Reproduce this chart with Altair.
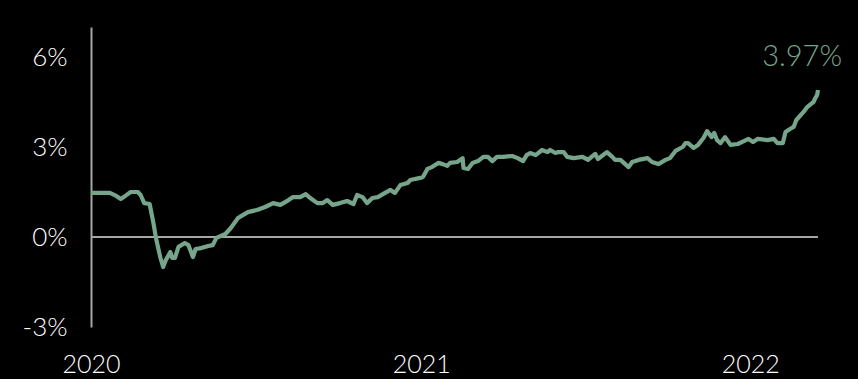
import altair as alt
import pandas as pd

# Cumulative return series, Jan 2020 - Mar 2022 (percent)
dates = [
    "2020-01-01", "2020-01-22", "2020-01-29", "2020-02-03", "2020-02-08", "2020-02-14",
    "2020-02-22", "2020-02-25", "2020-02-29", "2020-03-06", "2020-03-10", "2020-03-13",
    "2020-03-18", "2020-03-21", "2020-03-24", "2020-03-29", "2020-03-31", "2020-04-03",
    "2020-04-07", "2020-04-14", "2020-04-18", "2020-04-23", "2020-04-26", "2020-05-02",
    "2020-05-10", "2020-05-15", "2020-05-19", "2020-05-29", "2020-06-04", "2020-06-12",
    "2020-06-14", "2020-06-23", "2020-07-03", "2020-07-12", "2020-07-21", "2020-07-29",
    "2020-08-07", "2020-08-12", "2020-08-20", "2020-08-26", "2020-08-31", "2020-09-08",
    "2020-09-14", "2020-09-19", "2020-09-25", "2020-10-03", "2020-10-11", "2020-10-18",
    "2020-10-22", "2020-10-28", "2020-11-02", "2020-11-08", "2020-11-14", "2020-11-22",
    "2020-11-28", "2020-12-03", "2020-12-09", "2020-12-17", "2020-12-20", "2020-12-31",
    "2021-01-03", "2021-01-08", "2021-01-13", "2021-01-20", "2021-01-25", "2021-01-30",
    "2021-02-02", "2021-02-10", "2021-02-16", "2021-02-17", "2021-02-22", "2021-02-27",
    "2021-03-05", "2021-03-11", "2021-03-16", "2021-03-21", "2021-03-26", "2021-04-02",
    "2021-04-12", "2021-04-18", "2021-04-24", "2021-04-28", "2021-05-02", "2021-05-08",
    "2021-05-15", "2021-05-21", "2021-05-24", "2021-05-30", "2021-06-02", "2021-06-08",
    "2021-06-12", "2021-06-19", "2021-06-29", "2021-07-05", "2021-07-13", "2021-07-16",
    "2021-07-26", "2021-08-01", "2021-08-04", "2021-08-10", "2021-08-19", "2021-08-23",
    "2021-08-30", "2021-09-09", "2021-09-14", "2021-09-21", "2021-09-29", "2021-10-04",
    "2021-10-10", "2021-10-18", "2021-10-21", "2021-10-24", "2021-10-30", "2021-11-04",
    "2021-11-10", "2021-11-14", "2021-11-19", "2021-11-22", "2021-11-25", "2021-11-29",
    "2021-12-04", "2021-12-10", "2021-12-18", "2021-12-23", "2021-12-30", "2022-01-04",
    "2022-01-09", "2022-01-20", "2022-01-27", "2022-01-31", "2022-02-06", "2022-02-09",
    "2022-02-14", "2022-02-18", "2022-02-21", "2022-02-26", "2022-03-01", "2022-03-05",
    "2022-03-09", "2022-03-12", "2022-03-14", "2022-03-16", "2022-03-17",
]
returns = [
    1.47, 1.47, 1.37, 1.27, 1.37, 1.50,
    1.50, 1.40, 1.13, 1.10, 0.50, -0.03,
    -0.70, -1.00, -0.77, -0.50, -0.70, -0.70,
    -0.33, -0.20, -0.27, -0.67, -0.40, -0.37,
    -0.30, -0.27, -0.03, 0.10, 0.30, 0.63,
    0.67, 0.83, 0.90, 1.00, 1.13, 1.07,
    1.23, 1.33, 1.33, 1.43, 1.30, 1.13,
    1.13, 1.23, 1.07, 1.13, 1.20, 1.10,
    1.40, 1.33, 1.13, 1.30, 1.33, 1.47,
    1.57, 1.47, 1.73, 1.80, 1.90, 1.97,
    2.00, 2.27, 2.33, 2.47, 2.43, 2.37,
    2.47, 2.50, 2.63, 2.30, 2.27, 2.47,
    2.53, 2.67, 2.67, 2.53, 2.67, 2.67,
    2.70, 2.63, 2.53, 2.73, 2.80, 2.73,
    2.90, 2.83, 2.90, 2.80, 2.83, 2.83,
    2.67, 2.63, 2.67, 2.57, 2.77, 2.60,
    2.83, 2.67, 2.57, 2.57, 2.33, 2.50,
    2.57, 2.63, 2.50, 2.43, 2.57, 2.63,
    2.87, 3.00, 3.13, 3.13, 2.97, 3.07,
    3.30, 3.53, 3.33, 3.47, 3.23, 3.13,
    3.33, 3.07, 3.10, 3.17, 3.27, 3.17,
    3.27, 3.23, 3.27, 3.13, 3.13, 3.50,
    3.60, 3.67, 3.90, 4.07, 4.17, 4.33,
    4.43, 4.50, 4.63, 4.73, 4.90,
]

y_ticks = [-3, 0, 3, 6]
year_ticks = ["2020-01-01", "2021-01-01", "2022-01-01"]
headline = "3.97%"

LINE_GREEN = "#76a58c"
AXIS_GREY = "#a6a6a6"
FONT = "Lato"

df = pd.DataFrame({"date": pd.to_datetime(dates), "ret": returns})

x_scale = alt.Scale(domain=[pd.Timestamp("2020-01-01").isoformat(),
                            pd.Timestamp(dates[-1]).isoformat()])
y_scale = alt.Scale(domain=[-3, 7], nice=False)

base = alt.Chart(df)

line = base.mark_line(color=LINE_GREEN, strokeWidth=4.2, strokeJoin="round").encode(
    x=alt.X(
        "date:T",
        scale=x_scale,
        axis=alt.Axis(
            values=[pd.Timestamp(d).isoformat() for d in year_ticks],
            format="%Y",
            title=None,
            domain=False,
            ticks=False,
            grid=False,
            labelFont=FONT,
            labelFontSize=25,
            labelFontWeight=300,
            labelColor="#ffffff",
            labelPadding=45,
            labelBaseline="alphabetic",
            labelFlush=False,
        ),
    ),
    y=alt.Y(
        "ret:Q",
        scale=y_scale,
        axis=alt.Axis(
            values=y_ticks,
            labelExpr="datum.value + '%'",
            title=None,
            domain=True,
            domainColor=AXIS_GREY,
            domainWidth=2,
            ticks=False,
            grid=False,
            labelFont=FONT,
            labelFontSize=26,
            labelFontWeight=300,
            labelColor="#ffffff",
            labelPadding=24,
        ),
    ),
)

zero = alt.Chart(pd.DataFrame({"y": [0]})).mark_rule(
    color=AXIS_GREY, strokeWidth=2
).encode(y=alt.Y("y:Q", scale=y_scale))

label = alt.Chart(
    pd.DataFrame({"date": [pd.Timestamp(dates[-1])], "y": [6], "text": [headline]})
).mark_text(
    align="right", baseline="middle", dx=24, font=FONT, fontSize=29,
    fontWeight=300, color=LINE_GREEN,
).encode(
    x=alt.X("date:T", scale=x_scale),
    y=alt.Y("y:Q", scale=y_scale),
    text="text:N",
)

chart = (
    alt.layer(zero, line, label)
    .properties(
        width=727,
        height=300,
        background="#000000",
        padding={"left": 91, "top": 27, "right": 40, "bottom": 52},
        autosize=alt.AutoSizeParams(type="none"),
    )
    .configure_view(strokeWidth=0)
)

chart.save("out.html", embed_options={"renderer": "svg", "actions": False})
